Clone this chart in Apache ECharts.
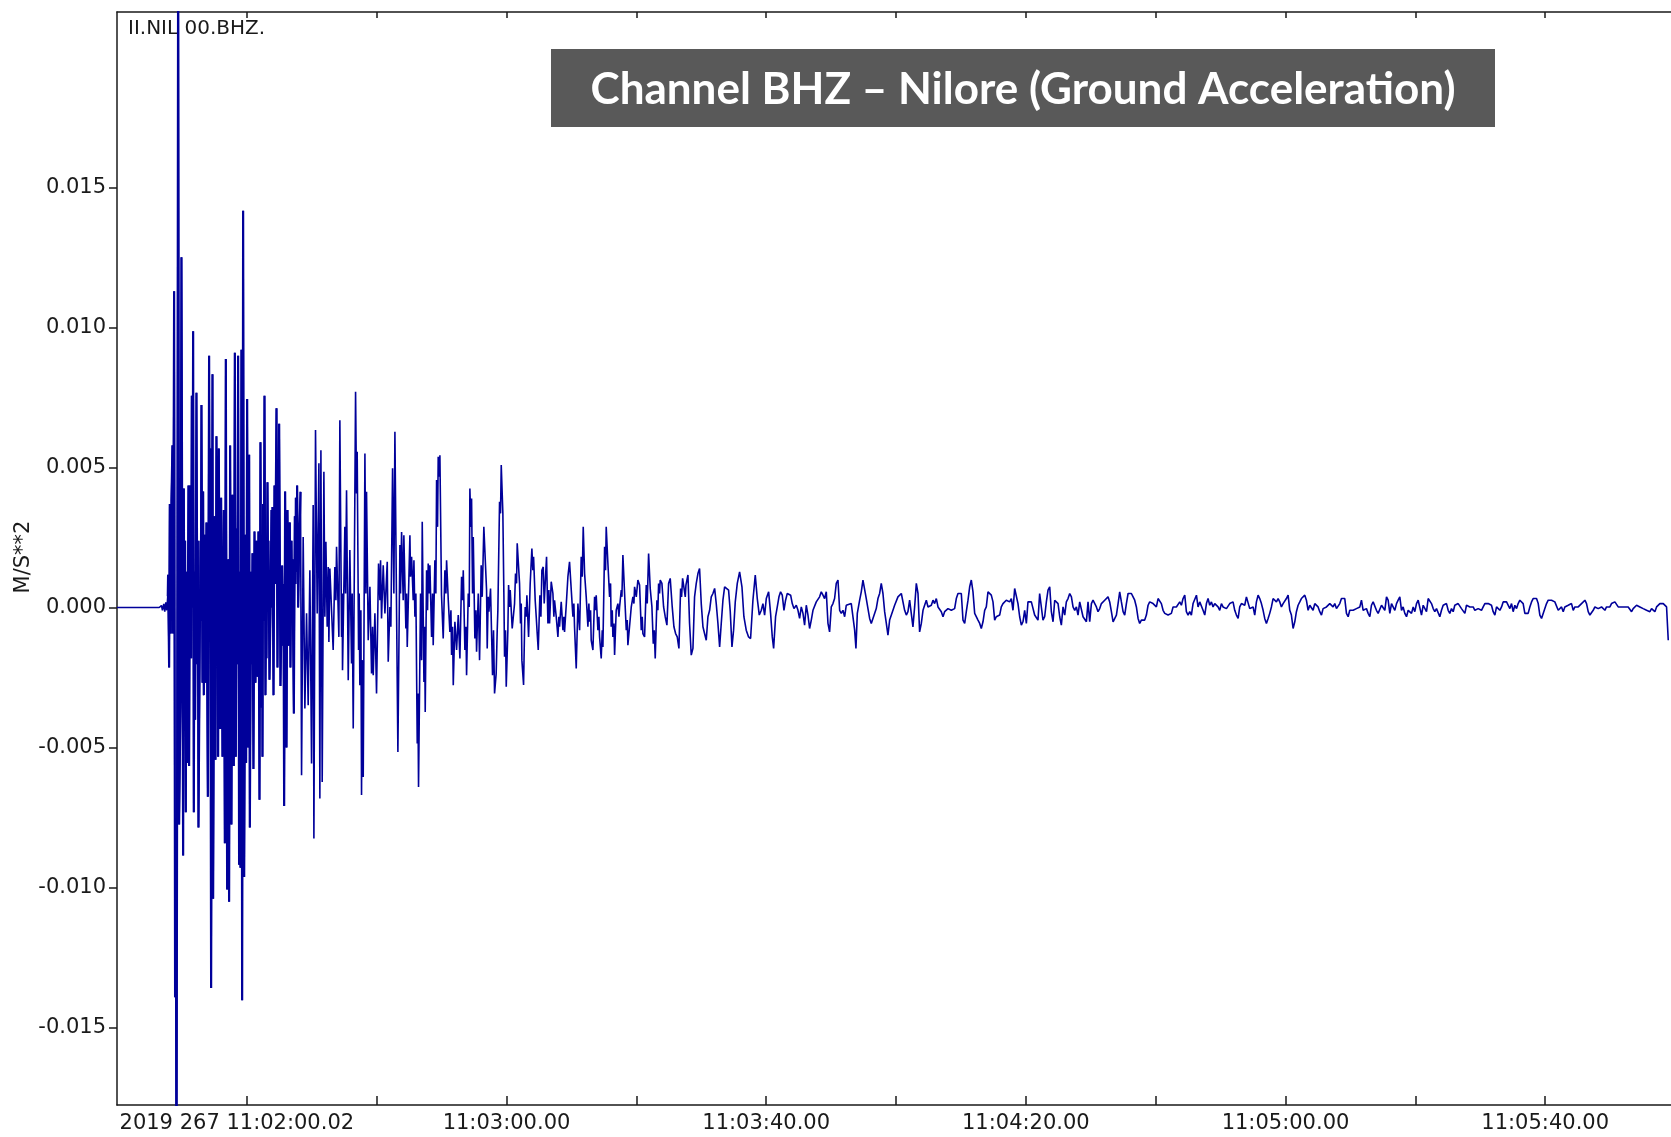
<!DOCTYPE html>
<html>
<head>
<meta charset="utf-8">
<script src="https://cdn.jsdelivr.net/npm/echarts@6/dist/echarts.min.js"></script>
<style>
html,body{margin:0;padding:0;background:#fff;}
#chart{width:1671px;height:1137px;}
</style>
</head>
<body>
<div id="chart"></div>
<script>
// ---- axis ticks & labels (time axis in seconds from trace start) ----
const xTickValues = [20, 40, 60, 80, 100, 120, 140, 160, 180, 200, 220];
const xLabelValues = [20, 60, 100, 140, 180, 220];
const xLabels = ['2019 267 11:02:00.02', '11:03:00.00', '11:03:40.00', '11:04:20.00', '11:05:00.00', '11:05:40.00'];
const yTickValues = [-0.015, -0.01, -0.005, 0, 0.005, 0.01, 0.015];
const stationLabel = 'II.NIL 00.BHZ.';
const unitLabel = 'M/S**2';
const titleText = 'Channel BHZ \u2013 Nilore (Ground Acceleration)';

// ---- waveform: [seconds, m/s^2] ----
const preEvent = [[0,0],[6.5,0],[6.85,0.00007],[7.0,-0.0001],[7.21,0.00013],[7.36,-0.00015],[7.52,0.00018],[7.67,-0.0001],[7.82,0.0004]];

const strongMotion = [[7.87,0.00117],[8.03,-0.00214],[8.13,0.0037],[8.29,-0.00093],[8.39,0.00381],[8.54,0.00579],[8.65,-0.00093],[8.8,0.0113],[8.95,-0.01392],[9.06,-0.00753],[9.16,-0.022],[9.31,0.0013],[9.42,0.0245],[9.57,-0.00775],[9.78,-0.00324],[9.93,0.01251],[10.08,-0.00093],[10.19,-0.00886],[10.29,0.00425],[10.39,-0.00313],[10.49,0.00238],[10.6,-0.00731],[10.7,0.00128],[10.8,-0.00555],[11.01,0.00436],[11.11,-0.00566],[11.26,0.00436],[11.42,-0.00181],[11.52,0.00756],[11.62,0],[11.73,0.00987],[11.83,-0.00731],[11.93,0.00128],[12.04,-0.00401],[12.24,0.00767],[12.39,-0.00203],[12.45,0.00238],[12.55,-0.00786],[12.86,0.00238],[12.91,-0.00048],[13.01,0.00723],[13.17,-0.00269],[13.27,0.00414],[13.37,-0.00313],[13.52,0.0026],[13.63,-0.00269],[13.78,0.00304],[13.99,-0.00676],[14.19,0.00899],[14.3,0],[14.35,0.00568],[14.5,-0.01359],[14.71,0.00833],[14.81,-0.0104],[15.01,0.00326],[15.17,-0.00544],[15.32,0.00612],[15.48,-0.00137],[15.53,0.00128],[15.58,-0.00533],[15.68,0.00568],[15.89,-0.00434],[16.04,0.00392],[16.25,-0.00533],[16.45,0.00348],[16.61,-0.00842],[16.76,0.00888],[16.97,-0.01007],[17.17,0.00172],[17.27,-0.01051],[17.43,0.00579],[17.63,-0.00775],[17.79,0.00403],[17.99,-0.00566],[18.15,0.0091],[18.3,-0.00533],[18.4,0.00128],[18.46,-0.00203],[18.51,0.00282],[18.56,-0.00093],[18.66,0.00899],[18.81,-0.00919],[18.92,0.00128],[19.02,-0.0093],[19.17,0.00921],[19.28,-0.01403],[19.43,0.01417],[19.59,-0.00963],[19.79,0.0026],[19.89,-0.00555],[20.05,0.00745],[20.2,-0.005],[20.36,0.00546],[20.46,-0.00786],[20.66,0.00128],[20.77,-0.00203],[20.87,0.00194],[21.02,-0.00577],[21.18,0.00271],[21.33,-0.00269],[21.48,0.00238],[21.64,-0.00247],[21.79,0.00271],[21.95,-0.00687],[22.1,0.0059],[22.26,-0.00357],[22.36,0.00128],[22.41,-0.00533],[22.51,0.0037],[22.61,-0.00048],[22.72,0.00756],[22.87,-0.00313],[22.97,0],[23.03,-0.00181],[23.18,0.00447],[23.28,0.00084],[23.33,0.00238],[23.49,-0.00258],[23.64,-0.0002],[23.8,0.00348],[23.9,0],[23.95,0.00359],[24.11,-0.00313],[24.26,0.00436],[24.36,0.00084],[24.57,0.00712],[24.72,-0.00214],[24.98,0.00656],[25.18,-0.0028],[25.44,0.0015],[25.59,-0.00137],[25.64,0.00084],[25.75,-0.00709],[25.9,0.00414],[26.11,-0.005],[26.26,0.00348],[26.42,-0.00137],[26.62,0.00304],[26.72,-0.00214],[26.88,0.00238],[26.98,0],[27.03,0.00172],[27.24,-0.00379],[27.39,0.00326],[27.49,0.00084],[27.55,0.00392],[27.65,0.00128],[27.75,0.00436],[27.91,0],[28.06,0.00227]];

const laterShaking = [[28.27,0.00413],[28.43,-0.00599],[28.68,0.00252],[28.94,-0.00361],[29.2,-0.00021],[29.45,-0.00349],[29.71,0.00133],[29.97,-0.00557],[30.22,0.00366],[30.33,-0.00825],[30.58,0.00634],[30.84,-0.00021],[31.1,0.00515],[31.25,-0.00682],[31.41,0.00562],[31.61,-0.00623],[31.87,0.00485],[32.02,-0.00033],[32.18,0.00235],[32.38,-0.00069],[32.54,0.00145],[32.64,-0.00123],[32.79,0.00139],[33.3,-0.00152],[33.56,0.00145],[33.72,0.00026],[33.82,0.00217],[34.18,-0.00105],[34.33,0.00669],[34.59,-0.00105],[34.69,0.0005],[34.74,-0.00224],[35.1,0.00288],[35.21,0.0005],[35.36,0.00419],[35.62,-0.0026],[35.87,0.00205],[36.13,-0.002],[36.23,0.0005],[36.39,-0.00432],[36.75,0.00771],[36.9,0.00407],[37.0,0.00556],[37.21,-0.00152],[37.31,0.0005],[37.41,-0.00278],[37.57,-0.0001],[37.67,-0.0067],[37.77,-0.00188],[37.93,-0.00605],[38.19,0.0055],[38.34,0.0005],[38.44,0.00413],[38.7,-0.00117],[38.96,0.00074],[39.21,-0.00236],[39.37,-0.00069],[39.47,-0.00242],[39.73,-0.00021],[39.98,-0.00307],[40.29,0.00157],[40.5,0.00026],[40.6,0.00169],[40.75,-0.00039],[41.01,0.00151],[41.27,-0.00021],[41.63,0.00163],[41.78,-0.00194],[42.04,0.00002],[42.19,-0.00069],[42.45,0.00497],[42.65,0.0005],[42.81,0.00628],[43.27,-0.00516],[43.58,0.00223],[43.68,0.0005],[43.84,0.0027],[44.09,0.00026],[44.19,0.00258],[44.5,-0.00075],[44.61,0.0005],[44.71,-0.00141],[45.12,0.00258],[45.22,0.0011],[45.38,0.00181],[45.63,0.00026],[45.74,0.00169],[45.89,-0.00033],[46.04,0.0005],[46.25,-0.00486],[46.35,-0.00307],[46.45,-0.00641],[46.76,0.0005],[46.92,-0.00188],[47.02,0.00306],[47.28,-0.00266],[47.38,-0.00069],[47.48,-0.00373],[47.69,0.00133],[47.84,-0.0001],[47.94,0.00157],[48.1,0.0005],[48.2,0.00151],[48.46,-0.00105],[48.61,0.0005],[48.71,-0.00135],[48.97,0.00169],[49.12,0.0005],[49.23,0.00455],[49.38,0.00288],[49.48,0.00538],[49.64,0.00467],[49.74,0.00544],[49.99,0.00044],[50.25,-0.00111],[50.51,0.00133],[50.67,0.0005],[50.77,0.00169],[51.03,0.00026],[51.28,-0.00087],[51.44,-0.0001],[51.54,-0.0017],[51.69,-0.00069],[51.8,-0.00278],[52.05,-0.00051],[52.31,-0.00152],[52.57,-0.00027],[52.82,-0.00182],[53.08,0.0011],[53.23,0.00026],[53.34,0.00133],[53.59,-0.00152],[53.75,-0.00069],[53.85,-0.00242],[54.11,0.0005],[54.26,0.00002],[54.36,0.00425],[54.52,0.00288],[54.62,0.00389],[54.77,0.0005],[54.88,0.00252],[55.13,-0.00111],[55.29,-0.0001],[55.39,-0.00158],[55.65,0.0005]];

const codaEarly = [[55.85,-0.00188],[56.1,0.00151],[56.26,0.00038],[56.51,0.00288],[56.72,0.00294],[56.93,0.00062],[57.03,-0.00146],[57.18,0.00038],[57.29,-0.00015],[57.54,0.00068],[57.85,-0.00242],[58.0,-0.00081],[58.16,-0.00307],[58.41,-0.00236],[58.57,-0.00081],[58.67,-0.0001],[58.93,0.00378],[59.08,0.00336],[59.19,0.00509],[59.44,0.00336],[59.6,0.00038],[59.7,-0.00176],[59.85,-0.00081],[59.96,-0.00283],[60.21,-0.00081],[60.32,0.0008],[60.47,0.00002],[60.57,0.00062],[60.88,-0.00075],[61.14,-0.00081],[61.24,0.00014],[61.39,0.00121],[61.55,0.00086],[61.65,0.00229],[61.86,0.00223],[62.01,0.00086],[62.16,-0.00057],[62.27,0.00014],[62.37,-0.00188],[62.63,-0.00277],[62.78,-0.00081],[62.88,0.00002],[63.04,-0.00033],[63.14,0.00044],[63.4,-0.00105],[63.65,0.00086],[63.91,0.00211],[64.06,0.00133],[64.17,0.00181],[64.42,0.00026],[64.58,-0.00033],[64.73,-0.00093],[64.89,-0.00152],[65.14,0.00044],[65.3,-0.00033],[65.45,0.00133],[65.66,0.00145],[65.81,0.00014],[65.96,0.00086],[66.17,0.00181],[66.38,-0.00057],[66.53,0.00062],[66.63,-0.00057],[66.89,0.00092],[67.15,0.0005],[67.3,-0.00033],[67.4,0.00026],[67.66,-0.00033],[67.92,-0.00105],[68.07,-0.00033],[68.17,-0.00069],[68.43,0.0002],[68.69,-0.00081],[68.84,-0.00033],[68.94,-0.00087],[69.2,0.00008],[69.46,0.0011],[69.71,0.00163],[69.97,0.00157],[70.23,-0.00033],[70.38,0.00014],[70.48,-0.00069],[70.74,-0.00218],[71.0,0.00014],[71.26,-0.00081],[71.51,0.00181],[71.67,0.0011],[71.82,0.00288],[72.03,0.00121],[72.28,0.00038],[72.54,-0.00069],[72.69,0.00014],[72.8,-0.00051],[72.95,-0.0001],[73.05,-0.00117],[73.31,-0.00152],[73.57,0.00038],[73.72,-0.0001],[73.82,0.00044],[74.08,-0.00081],[74.23,-0.00033],[74.34,-0.00105],[74.59,-0.00182],[74.75,-0.00081],[74.85,-0.00141],[75.11,0.00217],[75.26,0.00133],[75.36,0.00288],[75.62,0.00157],[75.88,0.00038],[76.03,0.00086],[76.13,-0.00069],[76.29,-0.0001],[76.39,-0.00105],[76.55,-0.00057],[76.65,-0.0017],[76.9,-0.0001],[77.16,0.00014],[77.32,-0.00033],[77.42,0.00002],[77.68,0.00062],[77.78,0.00038],[77.93,0.00187],[78.19,0.0005],[78.45,-0.00081],[78.6,-0.00045],[78.7,-0.00135],[78.96,-0.00129],[79.22,0.00002],[79.47,0.00038],[79.63,0.00014],[79.73,0.00074],[79.99,0.00038],[80.24,0.00098],[80.5,0.0008],[80.76,-0.00081],[80.91,-0.00033],[81.01,-0.00093],[81.27,-0.00105],[81.53,0.0008],[81.68,0.00014],[81.89,0.00193],[82.14,0.00068],[82.4,0.00002],[82.61,-0.00129],[82.76,-0.00081],[82.91,-0.00182],[83.17,0.00026],[83.32,-0.0001],[83.43,0.00086],[83.58,0.0005],[83.68,0.00098],[83.94,0.00086],[84.2,0.00002],[84.45,-0.00033],[84.71,-0.00063],[84.97,0.00086],[85.22,0.00104],[85.53,0.00002],[85.79,-0.00069],[86.05,-0.00093],[86.3,-0.00105],[86.56,-0.00146],[86.82,0.00068],[86.97,0.00038],[87.13,0.00104],[87.38,0.0011],[87.54,0.00038],[87.64,0.0008],[87.95,0.00116],[88.2,-0.00057],[88.46,-0.0017],[88.72,-0.00146],[88.97,0.00038],[89.23,0.00086],[89.49,0.00121],[89.74,0.00139],[90.0,0.00014],[90.26,-0.00069],[90.51,-0.00093],[90.77,-0.00117],[91.03,-0.00033],[91.29,-0.0001],[91.54,0.00038],[91.8,0.0005],[92.06,0.00068],[92.31,0.00014],[92.57,-0.00057],[92.83,-0.00141],[93.08,-0.00057],[93.34,0.00026],[93.6,0.00074],[93.85,0.00074],[94.21,0.00062],[94.47,-0.00015],[94.73,-0.00141],[94.98,-0.00081],[95.24,0.0002],[95.55,0.00086],[95.91,0.00127]];

const codaMid = [[96.06,0.00133],[96.27,0.00074],[96.57,-0.00033],[96.93,-0.00081],[97.29,-0.00105],[97.6,-0.00111],[97.96,0.00026],[98.32,0.00116],[98.63,0.00032],[98.94,-0.00027],[99.25,-0.0001],[99.5,0.00014],[99.76,-0.00027],[100.02,0.00032],[100.38,0.00056],[100.68,-0.00021],[100.94,-0.00105],[101.15,-0.00146],[101.45,-0.00033],[101.71,0.00002],[101.97,0.00038],[102.22,0.00056],[102.48,0.00044],[102.74,-0.0001],[102.99,0.00026],[103.25,0.0005],[103.51,0.00056],[103.77,0.00044],[104.02,0.00014],[104.28,-0.00004],[104.64,0.00008],[104.9,-0.0001],[105.15,-0.00039],[105.41,0.00002],[105.67,-0.00021],[105.92,-0.00063],[106.18,0.00008],[106.44,-0.00027],[106.69,-0.00075],[106.95,-0.00045],[107.21,-0.0001],[107.46,-0.00004],[107.72,0.0002],[107.98,0.00026],[108.23,0.00038],[108.49,0.00056],[108.75,0.00044],[109.0,0.00032],[109.26,0.00056],[109.52,-0.00057],[109.77,-0.00087],[110.03,0.00002],[110.29,0.00014],[110.54,0.00032],[110.8,0.00086],[111.06,0.00098],[111.32,-0.0001],[111.57,-0.00021],[111.83,-0.0001],[112.09,-0.00033],[112.34,0.00008],[112.6,0.00014],[113.11,0.00014],[113.37,0.00014],[113.63,-0.00081],[113.83,-0.00146],[114.04,-0.00021],[114.4,0.00026],[114.65,0.00056],[114.91,0.00098],[115.17,0.00098],[115.42,0.00032],[115.68,-0.00004],[115.94,-0.00039],[116.19,-0.00057],[116.45,-0.00039],[116.71,-0.00033],[116.96,-0.00004],[117.22,0.00032],[117.48,0.0005],[117.73,0.00086],[117.99,0.0005],[118.25,-0.00015],[118.51,-0.00057],[118.76,-0.00099],[119.02,-0.00045],[119.28,-0.00051],[119.53,-0.0001],[119.79,0.00008],[120.05,0.00014],[120.3,0.00038],[120.56,0.00032],[120.82,0.0005],[121.07,0.00044],[121.33,-0.0001],[121.59,-0.00027],[121.84,-0.00015],[122.1,0.00026],[122.36,0.00032],[122.61,-0.00069],[122.87,0.00002],[123.13,0.00086],[123.39,0.0005],[123.64,-0.00087],[123.9,-0.00057],[124.16,-0.0001],[124.41,0.00008],[124.67,0.00026],[124.93,0.00002],[125.18,0.00008],[125.44,0.00008],[125.7,0.00026],[125.95,0.00014],[126.21,0.00032],[126.47,0.00002],[126.72,0.00002],[126.98,-0.00015],[127.24,-0.00033],[127.49,-0.00015],[127.75,-0.00021],[128.01,-0.00004],[128.26,0.00002],[128.52,-0.0001],[128.78,-0.00015],[129.03,-0.00004],[129.29,0.00032],[129.55,0.0005],[129.8,0.00044],[130.06,0.0005],[130.32,-0.00045],[130.58,-0.00057],[130.83,-0.00015],[131.09,0.00026],[131.35,0.00074],[131.6,0.00098],[131.86,0.00056],[132.12,-0.00021],[132.37,-0.00015],[132.63,-0.00045],[132.89,-0.00057],[133.14,-0.00075],[133.4,-0.00051],[133.66,-0.0001],[133.91,0.00002],[134.17,0.00056],[134.43,0.00062],[134.68,0.00044],[134.94,0.0002],[135.2,-0.00045],[135.45,-0.00033],[135.71,-0.00033],[135.97,-0.00027],[136.22,0.00002],[136.48,0.00014],[136.74,0.0002],[136.99,0.00026],[137.25,0.00032],[137.51,0.0002],[137.77,0.00032],[138.02,-0.0001],[138.28,0.00068],[138.54,0.00074],[138.79,0.00014],[139.05,-0.00033],[139.31,-0.00063],[139.56,-0.00051],[139.82,-0.0001],[140.08,-0.00057],[140.33,0.0002],[140.59,0.00014],[140.85,0.0002],[141.1,0.00014],[141.36,-0.00027],[141.62,-0.00027],[141.87,-0.00045],[142.13,0.0005],[142.39,0.00044],[142.64,-0.00045],[142.9,-0.00033],[143.16,0.0002],[143.42,0.00062]];

const codaLate = [[143.68,0.00074],[143.93,-0.00015],[144.19,-0.00051],[144.45,0.00026],[144.7,0.00032],[144.96,0.00014],[145.22,-0.00033],[145.47,-0.00063],[145.73,0.00002],[145.99,-0.00027],[146.24,0.0002],[146.5,0.00032],[146.76,0.0005],[147.02,0.00038],[147.27,0.00002],[147.53,-0.0001],[147.79,0.00002],[148.04,-0.00027],[148.3,0.0002],[148.56,0.00026],[148.81,-0.00033],[149.07,-0.00027],[149.33,-0.00051],[149.58,0.0002],[149.84,-0.00051],[150.1,0.00014],[150.35,0.00026],[150.61,0.0002],[150.87,0.00002],[151.12,-0.00015],[151.38,-0.00004],[151.64,0.00014],[151.89,0.0002],[152.15,0.00026],[152.41,0.00032],[152.66,0.00038],[152.92,0.0002],[153.18,-0.00015],[153.44,-0.00051],[153.69,-0.00045],[153.95,-0.00027],[154.21,0.00014],[154.46,0.00056],[154.72,0.0002],[154.98,-0.00015],[155.23,-0.00027],[155.49,0.00014],[155.75,0.0005],[156.0,0.00044],[156.26,0.0005],[156.52,0.00038],[156.77,0.00026],[157.03,0.00002],[157.29,-0.00039],[157.54,-0.00057],[157.8,-0.00045],[158.06,-0.00039],[158.31,-0.00045],[158.57,-0.00027],[158.83,0.00008],[159.08,0.0002],[159.34,0.0002],[159.6,0.00014],[159.86,0.00008],[160.11,0.00002],[160.37,0.00032],[160.63,0.00026],[160.88,0.00014],[161.14,-0.0001],[161.4,-0.00021],[161.65,-0.00015],[161.91,-0.00027],[162.17,-0.00033],[162.42,-0.00021],[162.68,0.00002],[162.94,0.00008],[163.19,0.00002],[163.45,0.00008],[163.71,0.0002],[163.96,0.00008],[164.22,0.00032],[164.48,0.00044],[164.73,-0.00015],[164.99,-0.00027],[165.25,-0.00015],[165.5,-0.00027],[165.76,0.00014],[166.02,0.0002],[166.28,0.00044],[166.53,0.00002],[166.79,0.0002],[167.05,0.00014],[167.3,-0.0001],[167.56,-0.00027],[167.82,0.00014],[168.07,0.00032],[168.33,0.00008],[168.59,0.0002],[168.84,0.00002],[169.1,0.00014],[169.36,0.00008],[169.61,0.00002],[169.87,-0.0001],[170.13,0.00014],[170.38,0.00002],[170.64,0.00008],[170.9,-0.00004],[171.15,-0.0001],[171.41,0.00014],[171.67,0.0002],[171.92,0.0002],[172.18,-0.0001],[172.44,-0.00027],[172.7,-0.00039],[172.95,0.00002],[173.21,0.00014],[173.47,0.00014],[173.72,0.00008],[173.98,0.00038],[174.24,0.00044],[174.49,-0.00004],[174.75,-0.0001],[175.01,0.00002],[175.26,-0.00027],[175.52,0.0002],[175.78,0.00044],[176.03,0.00032],[176.29,0.00014],[176.55,-0.0001],[176.8,-0.00039],[177.06,-0.00057],[177.32,-0.00039],[177.57,-0.00021],[177.83,0.00002],[178.09,0.00032],[178.35,0.00026],[178.6,0.0002],[178.86,0.00032],[179.12,0.0002],[179.37,0.00002],[179.63,0.00014],[179.89,0.00008],[180.14,0.00032],[180.4,0.00044],[180.66,-0.0001],[180.91,-0.00027],[181.17,-0.00075],[181.43,-0.00051],[181.68,-0.00015],[181.94,0.00008],[182.2,0.0002],[182.45,0.00032],[182.71,0.00038],[182.97,0.00044],[183.22,0.00026],[183.48,-0.0001],[183.74,0.00008],[183.99,0.00014],[184.25,-0.0001],[184.51,0.00014],[184.76,0.00014],[185.02,0.00002],[185.28,-0.00015],[185.54,-0.00027],[185.79,-0.00004],[186.05,0.00002],[186.31,0.00002],[186.56,0.00008],[186.82,0.00014],[187.08,0.00008],[187.33,0.00002],[187.59,0.00014],[187.85,-0.00004],[188.1,0.00002],[188.36,0.00014],[188.62,0.00032],[188.88,0.00038],[189.13,0.00032],[189.39,-0.00021],[189.65,-0.00033],[189.9,-0.0001],[190.16,-0.00015],[190.42,-0.0001],[190.67,-0.0001],[190.93,-0.00004],[191.19,-0.0001]];

const codaTail = [[191.45,0.00002],[191.7,0.00026],[191.96,-0.0001],[192.22,-0.00015],[192.47,-0.00004],[192.73,-0.00021],[192.99,-0.00033],[193.24,0.00008],[193.5,0.0002],[193.76,0.00014],[194.01,-0.0001],[194.27,-0.00021],[194.53,-0.00015],[194.79,0.00008],[195.04,0.00002],[195.3,-0.0001],[195.56,0.00038],[195.81,0.00026],[196.07,-0.00021],[196.33,0.00014],[196.58,0.0002],[196.84,-0.0001],[197.1,0.00014],[197.35,0.00026],[197.61,0.00038],[197.87,-0.0001],[198.12,0.00002],[198.38,-0.00021],[198.64,-0.00033],[198.9,-0.0001],[199.15,-0.00015],[199.41,-0.00021],[199.67,0.00002],[199.92,-0.00015],[200.18,0.00014],[200.44,0.00026],[200.69,0.00026],[200.95,-0.00027],[201.21,0.00008],[201.46,0.00002],[201.72,-0.00015],[201.98,0.00032],[202.23,0.00038],[202.49,0.00014],[202.75,-0.00004],[203.0,-0.00015],[203.26,-0.00004],[203.52,-0.0001],[203.77,-0.00033],[204.03,-0.0001],[204.29,0.00008],[204.54,0.00014],[204.8,0.00014],[205.06,-0.0001],[205.31,-0.00021],[205.57,-0.00004],[205.83,-0.00015],[206.08,0.00008],[206.34,0.00008],[206.6,0.00014],[206.86,0.00008],[207.11,-0.00004],[207.37,-0.0001],[207.63,-0.00021],[207.88,0.00008],[208.14,0.00014],[208.4,0.00002],[208.65,0.00008],[208.91,0.00002],[209.17,-0.0001],[209.42,-0.00015],[209.68,-0.00004],[209.94,-0.00004],[210.19,-0.0001],[210.45,0.00002],[210.71,0.00014],[210.96,0.00014],[211.22,0.00014],[211.48,0.00014],[211.73,0.00008],[211.99,-0.00015],[212.25,-0.00027],[212.51,0.00002],[212.76,-0.00004],[213.02,-0.0001],[213.28,0.00002],[213.53,0.0002],[213.79,0.00026],[214.05,0.0002],[214.3,0.00014],[214.56,-0.00004],[214.82,0.00014],[215.07,-0.00015],[215.33,0.00008],[215.59,-0.00004],[215.84,0.00014],[216.1,0.00026],[216.36,0.00032],[216.61,0.00014],[216.87,-0.00021],[217.13,-0.00015],[217.38,-0.00021],[217.64,0.00002],[217.9,0.0002],[218.15,0.00032],[218.41,0.00038],[218.67,0.00032],[218.93,0.00014],[219.18,-0.00027],[219.44,-0.00039],[219.7,-0.00033],[219.95,-0.00004],[220.21,0.00014],[220.47,0.00026],[220.72,0.0002],[220.98,0.00026],[221.24,0.00026],[221.49,0.0002],[221.75,0.00014],[222.01,-0.0001],[222.26,-0.00015],[222.52,0.00002],[222.78,-0.00015],[223.03,0.00002],[223.29,-0.00004],[223.55,0.00008],[223.8,0.00014],[224.06,0.00014],[224.32,-0.0001],[224.58,0.00002],[224.83,0.00008],[225.09,0.00002],[225.35,0.00008],[225.6,0.00014],[225.86,0.0002],[226.12,0.00026],[226.37,0.00014],[226.63,-0.00015],[226.89,-0.00027],[227.14,-0.00033],[227.4,-0.0001],[227.66,0.00002],[227.91,0.00002],[228.17,-0.00004],[228.43,0.00002],[228.68,0.00002],[228.94,-0.00004],[229.2,-0.0001],[229.45,0.00002],[229.71,0.00008],[229.97,0.00002],[230.22,0.00014],[230.48,0.0002],[230.74,0.0002],[231.0,0.00014],[231.25,0.00002],[231.51,0.00002],[231.77,0.00002],[232.02,-0.00004],[232.28,0.00002],[232.54,0.00008],[232.79,0.00002],[233.05,0.00008],[233.31,-0.00015],[233.56,-0.00004],[233.82,-0.0001],[234.08,0.00008],[234.33,0.00002],[234.59,0.00002],[234.85,-0.00004],[235.1,-0.00004],[235.36,-0.00004],[235.62,-0.0001],[235.87,-0.00004],[236.13,-0.00015],[236.39,-0.00004],[236.65,-0.00004],[236.9,-0.00015],[237.16,0.00002],[237.42,0.00008],[237.67,0.00014],[237.93,0.00014],[238.19,0.00014],[238.44,0.00008],[238.7,0.00002],[238.96,-0.00117]];

const trace = [].concat(preEvent, strongMotion, laterShaking, codaEarly, codaMid, codaLate, codaTail);
const denseBurst = [].concat(preEvent.slice(-1), strongMotion, laterShaking.slice(0, 1));

const chart = echarts.init(document.getElementById('chart'), null, {renderer: 'canvas'});
const tickFont = {color: '#1a1a1a', fontFamily: 'DejaVu Sans', fontSize: 21};
const axisLineStyle = {color: '#1a1a1a', width: 1.5};
const traceColor = '#00009a';

chart.setOption({
  animation: false,
  backgroundColor: '#ffffff',
  grid: {left: 117, top: 12, width: 1558, height: 1093, containLabel: false, outerBoundsMode: 'none'},
  xAxis: [{
    type: 'value', min: 0, max: 240, position: 'bottom',
    axisLine: {show: true, onZero: false, lineStyle: axisLineStyle},
    axisTick: {show: true, inside: true, length: 9, customValues: xTickValues, lineStyle: axisLineStyle},
    axisLabel: Object.assign({
      show: true, margin: 8, customValues: xLabelValues,
      formatter: function (v) {
        const i = xLabelValues.findIndex(function (d) { return Math.abs(d - v) < 1e-6; });
        if (i < 0) return '';
        return i === 0 ? '{first|' + xLabels[i] + '}' : xLabels[i];
      },
      rich: {first: {fontFamily: 'DejaVu Sans', fontSize: 21, color: '#1a1a1a', padding: [0, 20, 0, 0]}}
    }, tickFont),
    splitLine: {show: false}
  }, {
    type: 'value', min: 0, max: 240, position: 'top',
    axisLine: {show: true, onZero: false, lineStyle: axisLineStyle},
    axisTick: {show: true, inside: true, length: 6, customValues: xTickValues, lineStyle: axisLineStyle},
    axisLabel: {show: false},
    splitLine: {show: false}
  }],
  yAxis: {
    type: 'value', min: -0.01777, max: 0.02127,
    axisLine: {show: true, onZero: false, lineStyle: axisLineStyle},
    axisTick: {show: true, inside: false, length: 8, customValues: yTickValues, lineStyle: axisLineStyle},
    axisLabel: Object.assign({
      show: true, margin: 11, customValues: yTickValues,
      formatter: function (v) { return (Math.abs(v) < 1e-9 ? 0 : v).toFixed(3); }
    }, tickFont),
    splitLine: {show: false}
  },
  series: [{
    type: 'line',
    data: trace,
    showSymbol: false,
    symbol: 'none',
    clip: true,
    lineStyle: {color: traceColor, width: 1.6},
    emphasis: {disabled: true},
    silent: true
  }, {
    type: 'line',
    data: denseBurst,
    showSymbol: false,
    symbol: 'none',
    clip: true,
    lineStyle: {color: traceColor, width: 2.2},
    emphasis: {disabled: true},
    silent: true
  }],
  graphic: [
    {type: 'text', x: 128, y: 29, silent: true,
     style: {text: stationLabel, fill: '#1a1a1a', font: '20px "DejaVu Sans"', textAlign: 'left', textVerticalAlign: 'middle', align: 'left', verticalAlign: 'middle'}},
    {type: 'text', x: 24, y: 557, rotation: Math.PI / 2, silent: true,
     style: {text: unitLabel, fill: '#1a1a1a', font: '21px "DejaVu Sans"', textAlign: 'center', textVerticalAlign: 'middle', align: 'center', verticalAlign: 'middle'}},
    {type: 'rect', silent: true, shape: {x: 551, y: 49, width: 944, height: 78}, style: {fill: '#595959'}, z: 100},
    {type: 'text', x: 1023, y: 90, silent: true, z: 101,
     style: {text: titleText, fill: '#ffffff', font: 'bold 44px Lato', textAlign: 'center', textVerticalAlign: 'middle', align: 'center', verticalAlign: 'middle'}}
  ]
});
</script>
</body>
</html>
